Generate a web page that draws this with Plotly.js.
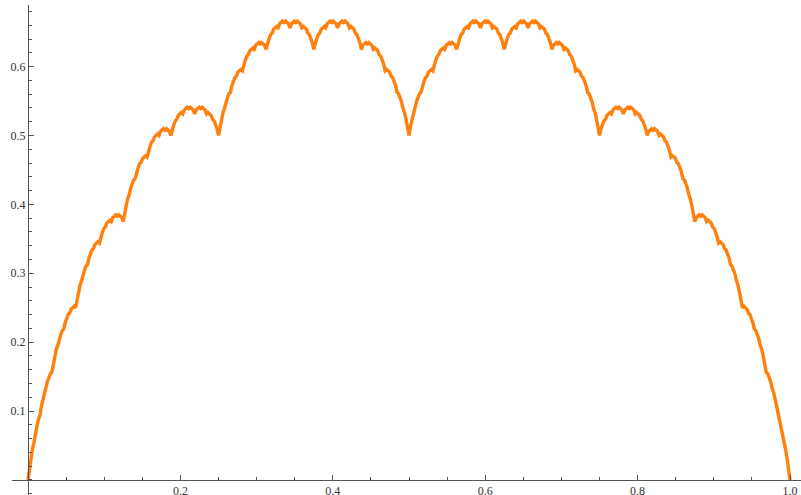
<!DOCTYPE html>
<html>
<head>
<meta charset="utf-8">
<script src="https://cdn.plot.ly/plotly-3.0.1.min.js"></script>
<style>
  html, body { margin: 0; padding: 0; background: #fff; }
  #chart { width: 801px; height: 495px; }
</style>
</head>
<body>
<div id="chart"></div>
<script>
// Blancmange (Takagi) curve sampled on an even grid of 513 points over [0, 1]
const xStart = 0;
const xEnd = 1;
const yValues = [
  0, 0.0176, 0.0313, 0.0449, 0.0547, 0.0684, 0.0781, 0.0879,
  0.0938, 0.1074, 0.1172, 0.127, 0.1328, 0.1426, 0.1484, 0.1543,
  0.1563, 0.1699, 0.1797, 0.1895, 0.1953, 0.2051, 0.2109, 0.2168,
  0.2188, 0.2285, 0.2344, 0.2402, 0.2422, 0.248, 0.25, 0.252,
  0.25, 0.2637, 0.2734, 0.2832, 0.2891, 0.2988, 0.3047, 0.3105,
  0.3125, 0.3223, 0.3281, 0.334, 0.3359, 0.3418, 0.3438, 0.3457,
  0.3438, 0.3535, 0.3594, 0.3652, 0.3672, 0.373, 0.375, 0.377,
  0.375, 0.3809, 0.3828, 0.3848, 0.3828, 0.3848, 0.3828, 0.3809,
  0.375, 0.3887, 0.3984, 0.4082, 0.4141, 0.4238, 0.4297, 0.4355,
  0.4375, 0.4473, 0.4531, 0.459, 0.4609, 0.4668, 0.4688, 0.4707,
  0.4688, 0.4785, 0.4844, 0.4902, 0.4922, 0.498, 0.5, 0.502,
  0.5, 0.5059, 0.5078, 0.5098, 0.5078, 0.5098, 0.5078, 0.5059,
  0.5, 0.5098, 0.5156, 0.5215, 0.5234, 0.5293, 0.5313, 0.5332,
  0.5313, 0.5371, 0.5391, 0.541, 0.5391, 0.541, 0.5391, 0.5371,
  0.5313, 0.5371, 0.5391, 0.541, 0.5391, 0.541, 0.5391, 0.5371,
  0.5313, 0.5332, 0.5313, 0.5293, 0.5234, 0.5215, 0.5156, 0.5098,
  0.5,
  0.5137, 0.5234, 0.5332, 0.5391, 0.5488, 0.5547, 0.5605, 0.5625,
  0.5723, 0.5781, 0.584, 0.5859, 0.5918, 0.5938, 0.5957, 0.5938,
  0.6035, 0.6094, 0.6152, 0.6172, 0.623, 0.625, 0.627, 0.625,
  0.6309, 0.6328, 0.6348, 0.6328, 0.6348, 0.6328, 0.6309, 0.625,
  0.6348, 0.6406, 0.6465, 0.6484, 0.6543, 0.6563, 0.6582, 0.6563,
  0.6621, 0.6641, 0.666, 0.6641, 0.666, 0.6641, 0.6621, 0.6563,
  0.6621, 0.6641, 0.666, 0.6641, 0.666, 0.6641, 0.6621, 0.6563,
  0.6582, 0.6563, 0.6543, 0.6484, 0.6465, 0.6406, 0.6348, 0.625,
  0.6348, 0.6406, 0.6465, 0.6484, 0.6543, 0.6563, 0.6582, 0.6563,
  0.6621, 0.6641, 0.666, 0.6641, 0.666, 0.6641, 0.6621, 0.6563,
  0.6621, 0.6641, 0.666, 0.6641, 0.666, 0.6641, 0.6621, 0.6563,
  0.6582, 0.6563, 0.6543, 0.6484, 0.6465, 0.6406, 0.6348, 0.625,
  0.6309, 0.6328, 0.6348, 0.6328, 0.6348, 0.6328, 0.6309, 0.625,
  0.627, 0.625, 0.623, 0.6172, 0.6152, 0.6094, 0.6035, 0.5938,
  0.5957, 0.5938, 0.5918, 0.5859, 0.584, 0.5781, 0.5723, 0.5625,
  0.5605, 0.5547, 0.5488, 0.5391, 0.5332, 0.5234, 0.5137, 0.5,
  0.5137, 0.5234, 0.5332, 0.5391, 0.5488, 0.5547, 0.5605, 0.5625,
  0.5723, 0.5781, 0.584, 0.5859, 0.5918, 0.5938, 0.5957, 0.5938,
  0.6035, 0.6094, 0.6152, 0.6172, 0.623, 0.625, 0.627, 0.625,
  0.6309, 0.6328, 0.6348, 0.6328, 0.6348, 0.6328, 0.6309, 0.625,
  0.6348, 0.6406, 0.6465, 0.6484, 0.6543, 0.6563, 0.6582, 0.6563,
  0.6621, 0.6641, 0.666, 0.6641, 0.666, 0.6641, 0.6621, 0.6563,
  0.6621, 0.6641, 0.666, 0.6641, 0.666, 0.6641, 0.6621, 0.6563,
  0.6582, 0.6563, 0.6543, 0.6484, 0.6465, 0.6406, 0.6348, 0.625,
  0.6348, 0.6406, 0.6465, 0.6484, 0.6543, 0.6563, 0.6582, 0.6563,
  0.6621, 0.6641, 0.666, 0.6641, 0.666, 0.6641, 0.6621, 0.6563,
  0.6621, 0.6641, 0.666, 0.6641, 0.666, 0.6641, 0.6621, 0.6563,
  0.6582, 0.6563, 0.6543, 0.6484, 0.6465, 0.6406, 0.6348, 0.625,
  0.6309, 0.6328, 0.6348, 0.6328, 0.6348, 0.6328, 0.6309, 0.625,
  0.627, 0.625, 0.623, 0.6172, 0.6152, 0.6094, 0.6035, 0.5938,
  0.5957, 0.5938, 0.5918, 0.5859, 0.584, 0.5781, 0.5723, 0.5625,
  0.5605, 0.5547, 0.5488, 0.5391, 0.5332, 0.5234, 0.5137, 0.5,
  0.5098, 0.5156, 0.5215, 0.5234, 0.5293, 0.5313, 0.5332, 0.5313,
  0.5371, 0.5391, 0.541, 0.5391, 0.541, 0.5391, 0.5371, 0.5313,
  0.5371, 0.5391, 0.541, 0.5391, 0.541, 0.5391, 0.5371, 0.5313,
  0.5332, 0.5313, 0.5293, 0.5234, 0.5215, 0.5156, 0.5098, 0.5,
  0.5059, 0.5078, 0.5098, 0.5078, 0.5098, 0.5078, 0.5059, 0.5,
  0.502, 0.5, 0.498, 0.4922, 0.4902, 0.4844, 0.4785, 0.4688,
  0.4707, 0.4688, 0.4668, 0.4609, 0.459, 0.4531, 0.4473, 0.4375,
  0.4355, 0.4297, 0.4238, 0.4141, 0.4082, 0.3984, 0.3887, 0.375,
  0.3809, 0.3828, 0.3848, 0.3828, 0.3848, 0.3828, 0.3809, 0.375,
  0.377, 0.375, 0.373, 0.3672, 0.3652, 0.3594, 0.3535, 0.3438,
  0.3457, 0.3438, 0.3418, 0.3359, 0.334, 0.3281, 0.3223, 0.3125,
  0.3105, 0.3047, 0.2988, 0.2891, 0.2832, 0.2734, 0.2637, 0.25,
  0.252, 0.25, 0.248, 0.2422, 0.2402, 0.2344, 0.2285, 0.2188,
  0.2168, 0.2109, 0.2051, 0.1953, 0.1895, 0.1797, 0.1699, 0.1563,
  0.1543, 0.1484, 0.1426, 0.1328, 0.127, 0.1172, 0.1074, 0.0938,
  0.0879, 0.0781, 0.0684, 0.0547, 0.0449, 0.0313, 0.0176, 0
];
const xTickVals = [0.2, 0.4, 0.6, 0.8, 1.0];
const xTickText = ['0.2', '0.4', '0.6', '0.8', '1.0'];
const yTickVals = [0.1, 0.2, 0.3, 0.4, 0.5, 0.6];
const yTickText = ['0.1', '0.2', '0.3', '0.4', '0.5', '0.6'];

const n = yValues.length;
const xValues = yValues.map((_, i) => xStart + (xEnd - xStart) * i / (n - 1));

const axisColor = '#555555';
const labelFont = { family: 'Liberation Serif, Times New Roman, serif', size: 12, color: '#333333' };

const xRange = [-0.021, 1.0144];
const yRange = [-0.0218, 0.6894];
// place each axis line where the other coordinate is zero
const yAxisPos = (0 - xRange[0]) / (xRange[1] - xRange[0]);
const xAxisPos = (0 - yRange[0]) / (yRange[1] - yRange[0]);

const trace = {
  x: xValues,
  y: yValues,
  type: 'scatter',
  mode: 'lines',
  line: { color: '#ff800c', width: 3.4, shape: 'linear' },
  hoverinfo: 'skip',
  cliponaxis: false
};

const layout = {
  width: 801,
  height: 495,
  margin: { l: 12, r: 0, t: 5, b: 0 },
  paper_bgcolor: '#ffffff',
  plot_bgcolor: '#ffffff',
  showlegend: false,
  xaxis: {
    range: xRange,
    anchor: 'free',
    position: xAxisPos,
    showgrid: false,
    zeroline: false,
    showline: true,
    linecolor: axisColor,
    linewidth: 1,
    ticks: 'inside',
    ticklen: 5,
    tickwidth: 1,
    tickcolor: axisColor,
    tickmode: 'array',
    tickvals: xTickVals,
    ticktext: xTickText,
    tickfont: labelFont,
    minor: { dtick: 0.05, tick0: 0, ticks: 'inside', ticklen: 3, tickwidth: 1, tickcolor: axisColor, showgrid: false }
  },
  yaxis: {
    range: yRange,
    anchor: 'free',
    position: yAxisPos,
    showgrid: false,
    zeroline: false,
    showline: true,
    linecolor: axisColor,
    linewidth: 1,
    ticks: 'inside',
    ticklen: 5,
    tickwidth: 1,
    tickcolor: axisColor,
    tickmode: 'array',
    tickvals: yTickVals,
    ticktext: yTickText,
    tickfont: labelFont,
    minor: { dtick: 0.02, tick0: 0, ticks: 'inside', ticklen: 3, tickwidth: 1, tickcolor: axisColor, showgrid: false }
  }
};

Plotly.newPlot('chart', [trace], layout, { displayModeBar: false, staticPlot: true });
</script>
</body>
</html>
